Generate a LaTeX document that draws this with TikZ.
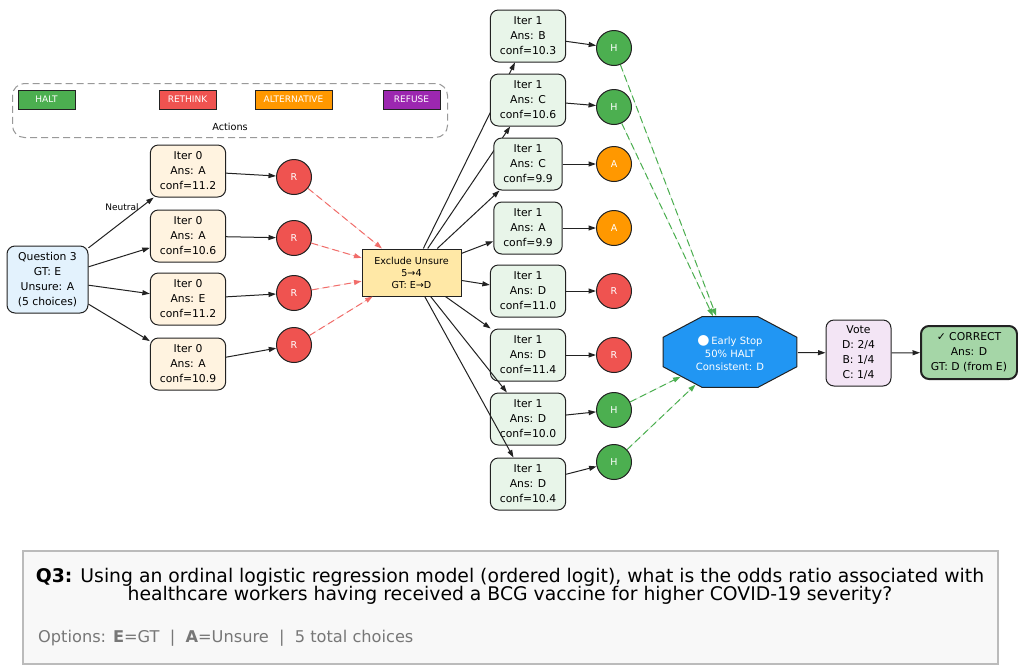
\documentclass[tikz,border=0pt]{standalone}
\usepackage{fontspec}
\setmainfont{DejaVu Sans}
\usetikzlibrary{arrows.meta,shapes.geometric}
\definecolor{iterA}{HTML}{FFF3E0}
\definecolor{iterB}{HTML}{E8F5E9}
\definecolor{qblue}{HTML}{E3F2FD}
\definecolor{exfill}{HTML}{FFE8A6}
\definecolor{haltc}{HTML}{4CAF50}
\definecolor{rethc}{HTML}{EF5350}
\definecolor{altc}{HTML}{FF9800}
\definecolor{refc}{HTML}{9C27B0}
\definecolor{esblue}{HTML}{2196F3}
\definecolor{votec}{HTML}{F3E5F5}
\definecolor{corrc}{HTML}{A5D6A7}
\definecolor{bgray}{HTML}{F8F8F8}
\definecolor{bordgray}{HTML}{BBBBBB}
\definecolor{optgray}{HTML}{777777}
\definecolor{edgec}{HTML}{222222}
\begin{document}
\begin{tikzpicture}[x=1pt,y=-1pt,
  box/.style={draw=edgec, rounded corners=8pt, align=center, inner xsep=9.5pt, inner ysep=3pt,
    minimum height=52pt, font=\fontsize{10.8}{15}\selectfont, line width=1pt},
  itzero/.style={box, fill=iterA},
  itone/.style={box, fill=iterB},
  act/.style={circle, draw=edgec, minimum size=35pt, inner sep=0pt,
    font=\fontsize{9.5}{11}\selectfont, text=white, line width=1pt},
  legbox/.style={draw=edgec, minimum width=57pt, minimum height=19pt, inner sep=0pt,
    font=\fontsize{9}{10}\selectfont, text=white, line width=1pt},
  arr/.style={-{Triangle[length=7.5pt,width=5pt]}, line width=1pt, draw=edgec},
  rdash/.style={-{Triangle[length=7.5pt,width=5pt]}, line width=1pt, draw=rethc!85, fill=rethc!85, dash pattern=on 7pt off 4pt},
  gdash/.style={-{Triangle[length=7.5pt,width=5pt]}, line width=1pt, draw=haltc, fill=haltc, dash pattern=on 7pt off 4pt}
]
\useasboundingbox (0,0) rectangle (1018,665);
\fill[white] (0,0) rectangle (1018,665);

% legend
\node[draw=gray!80, line width=1pt, dash pattern=on 7pt off 4pt, rounded corners=12pt,
  minimum width=435pt, minimum height=54pt, anchor=north west, inner sep=0pt] (lg) at (12,83) {};
\node[legbox, fill=haltc] (lh) at (46.5,99.5) {HALT};
\node[legbox, fill=rethc] (lr) at (187.5,99.5) {RETHINK};
\node[legbox, fill=altc, minimum width=77pt] (la) at (293.5,99.5) {ALTERNATIVE};
\node[legbox, fill=refc] (lf) at (411.5,99.5) {REFUSE};
\node[font=\fontsize{9.7}{11}\selectfont] (lact) at (230,127) {Actions};

% question node
\node[box, fill=qblue, minimum width=81pt, minimum height=67pt, inner xsep=3pt] (q) at (47.5,279.5)
  {Question 3\\GT: E\\Unsure: A\\(5 choices)};

% iteration 0
\node[itzero] (a1) at (188,171) {Iter 0\\Ans: A\\conf=11.2};
\node[itzero] (a2) at (188,236) {Iter 0\\Ans: A\\conf=10.6};
\node[itzero] (a3) at (188,299) {Iter 0\\Ans: E\\conf=11.2};
\node[itzero] (a4) at (188,364) {Iter 0\\Ans: A\\conf=10.9};

\draw[arr] (q) -- node[pos=0.8, anchor=east, inner sep=1.5pt, font=\fontsize{9}{10}\selectfont] (neutral) {Neutral} (a1);
\draw[arr] (q) -- (a2);
\draw[arr] (q) -- (a3);
\draw[arr] (q) -- (a4);

\node[act, fill=rethc] (r1) at (294,177) {R};
\node[act, fill=rethc] (r2) at (294,238) {R};
\node[act, fill=rethc] (r3) at (294,293) {R};
\node[act, fill=rethc] (r4) at (294,345) {R};
\draw[arr] (a1) -- (r1);
\draw[arr] (a2) -- (r2);
\draw[arr] (a3) -- (r3);
\draw[arr] (a4) -- (r4);

% exclude
\node[draw=edgec, fill=exfill, line width=1pt, minimum width=99pt, minimum height=47pt, inner sep=0pt,
  align=center, font=\fontsize{9.6}{12}\selectfont] (ex) at (411.5,272.5) {Exclude Unsure\\5→4\\GT: E→D};
\draw[rdash] (r1) -- (ex);
\draw[rdash] (r2) -- (ex);
\draw[rdash] (r3) -- (ex);
\draw[rdash] (r4) -- (ex);

% iteration 1
\node[itone] (b1) at (528,36) {Iter 1\\Ans: B\\conf=10.3};
\draw[arr] (ex) -- (b1);
\node[itone] (b2) at (528,100) {Iter 1\\Ans: C\\conf=10.6};
\draw[arr] (ex) -- (b2);
\node[itone] (b3) at (528,164) {Iter 1\\Ans: C\\conf=9.9};
\draw[arr] (ex) -- (b3);
\node[itone] (b4) at (528,228) {Iter 1\\Ans: A\\conf=9.9};
\draw[arr] (ex) -- (b4);
\node[itone] (b5) at (528,291) {Iter 1\\Ans: D\\conf=11.0};
\draw[arr] (ex) -- (b5);
\node[itone] (b6) at (528,355) {Iter 1\\Ans: D\\conf=11.4};
\draw[arr] (ex) -- (b6);
\node[itone] (b7) at (528,419) {Iter 1\\Ans: D\\conf=10.0};
\draw[arr] (ex) -- (b7);
\node[itone] (b8) at (528,484) {Iter 1\\Ans: D\\conf=10.4};
\draw[arr] (ex) -- (b8);

\node[act, fill=haltc] (c1) at (614,48) {H};
\node[act, fill=haltc] (c2) at (614,107) {H};
\node[act, fill=altc] (c3) at (614,164) {A};
\node[act, fill=altc] (c4) at (614,228) {A};
\node[act, fill=rethc] (c5) at (614,291) {R};
\node[act, fill=rethc] (c6) at (614,355) {R};
\node[act, fill=haltc] (c7) at (614,410) {H};
\node[act, fill=haltc] (c8) at (614,462) {H};
\foreach \i in {1,...,8} { \draw[arr] (b\i) -- (c\i); }

% early stop
\node[regular polygon, regular polygon sides=8, minimum size=76.8pt, inner sep=0pt,
  xscale=1.887, transform shape, draw=edgec, fill=esblue, line width=1pt] (es) at (730,352) {};
\node[text=white, align=center, font=\fontsize{10}{13}\selectfont] (estext) at (730,353)
  {{\fontsize{14}{13}\selectfont ●}\,Early Stop\\50\% HALT\\Consistent: D};
\draw[gdash] (c1) -- (es);
\draw[gdash] (c2) -- (es);
\draw[gdash] (c7) -- (es);
\draw[gdash] (c8) -- (es);

% vote and result
\node[box, fill=votec, minimum width=65pt, minimum height=66pt, inner xsep=3pt] (vote) at (858.5,353)
  {Vote\\D: 2/4\\B: 1/4\\C: 1/4};
\node[box, fill=corrc, minimum width=96pt, minimum height=53pt, inner xsep=3pt, line width=2pt] (corr) at (969,352.5)
  {✓ CORRECT\\Ans: D\\GT: D (from E)};
\draw[arr] (es) -- (vote);
\draw[arr] (vote) -- (corr);

% question text box
\node[draw=bordgray, fill=bgray, line width=1.5pt, minimum width=975pt, minimum height=113pt,
  anchor=north west, inner sep=0pt] (qbox) at (22,550) {};
\node[anchor=base, font=\fontsize{18.8}{19}\selectfont, inner sep=0pt] (qline1) at (510,582)
  {\textbf{Q3:} Using an ordinal logistic regression model (ordered logit), what is the odds ratio associated with};
\node[anchor=base, font=\fontsize{18.8}{19}\selectfont, inner sep=0pt] (qline2) at (510,600.7)
  {healthcare workers having received a BCG vaccine for higher COVID-19 severity?};
\node[anchor=base west, text=optgray, font=\fontsize{16.2}{18}\selectfont, inner sep=0pt] (opts) at (38,642)
  {Options: \textbf{E}=GT \ |\ \ \textbf{A}=Unsure \ |\ \ 5 total choices};
\end{tikzpicture}
\end{document}
